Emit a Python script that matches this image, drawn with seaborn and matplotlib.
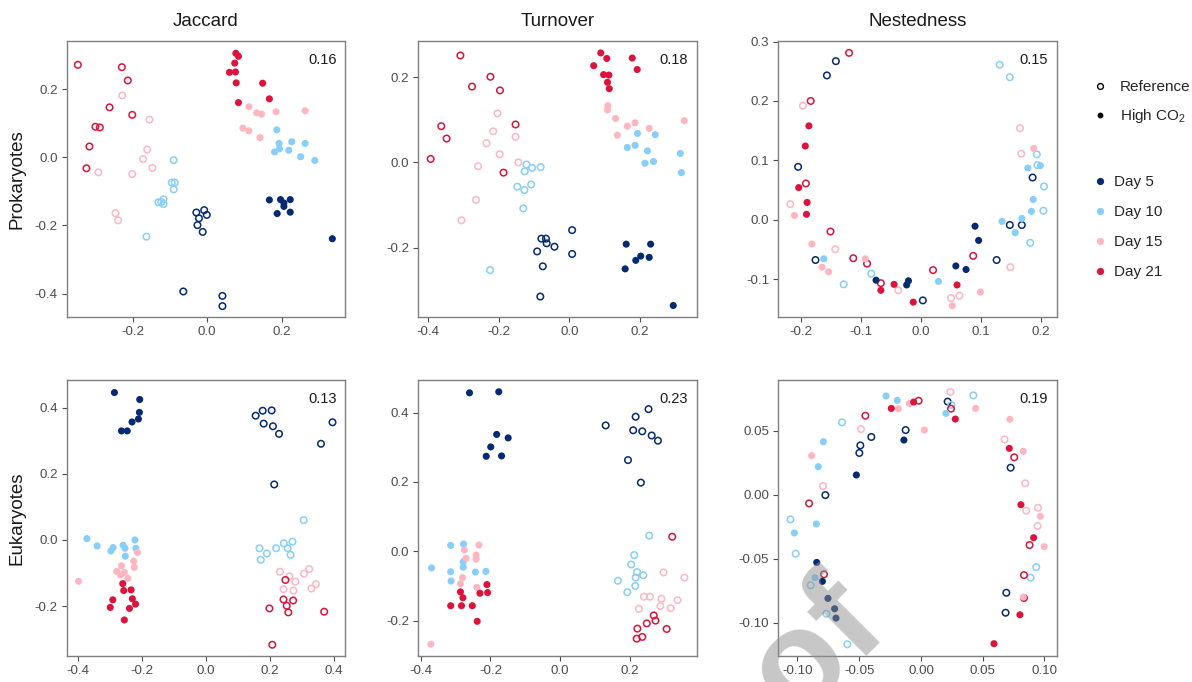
import matplotlib
matplotlib.use("Agg")
import matplotlib.pyplot as plt
from matplotlib.lines import Line2D
from matplotlib.ticker import FormatStrFormatter
import seaborn as sns
import pandas as pd

# ---------------------------------------------------------------------------
# Ordination scores (axis 1, axis 2) per sampling day
# ---------------------------------------------------------------------------
prok_jaccard_ref = {
    5: [(-0.029, -0.162), (-0.008, -0.155), (-0.001, -0.169), (-0.022, -0.179), (-0.026, -0.199),
        (-0.012, -0.219), (-0.064, -0.394), (0.041, -0.407), (0.041, -0.437)],
    10: [(-0.090, -0.008), (-0.095, -0.074), (-0.087, -0.074), (-0.090, -0.094), (-0.131, -0.132),
         (-0.123, -0.131), (-0.117, -0.123), (-0.117, -0.137), (-0.163, -0.233)],
    15: [(-0.228, 0.182), (-0.155, 0.111), (-0.161, 0.023), (-0.172, -0.005), (-0.147, -0.031),
         (-0.292, -0.044), (-0.201, -0.049), (-0.246, -0.164), (-0.239, -0.185)],
    21: [(-0.347, 0.272), (-0.229, 0.265), (-0.213, 0.226), (-0.262, 0.147), (-0.201, 0.125),
         (-0.300, 0.090), (-0.288, 0.088), (-0.316, 0.032), (-0.324, -0.032)],
}
prok_jaccard_co2 = {
    5: [(0.167, -0.125), (0.197, -0.124), (0.223, -0.124), (0.206, -0.134), (0.206, -0.144),
        (0.188, -0.165), (0.223, -0.161), (0.336, -0.239)],
    10: [(0.187, 0.081), (0.193, 0.041), (0.194, 0.025), (0.181, 0.016), (0.227, 0.046),
         (0.219, 0.021), (0.263, 0.041), (0.251, 0.002), (0.289, -0.009)],
    15: [(0.112, 0.149), (0.133, 0.131), (0.146, 0.127), (0.185, 0.134), (0.263, 0.137),
         (0.096, 0.086), (0.112, 0.078), (0.142, 0.058)],
    21: [(0.077, 0.306), (0.084, 0.297), (0.074, 0.277), (0.060, 0.250), (0.076, 0.251),
         (0.078, 0.219), (0.149, 0.218), (0.084, 0.161), (0.167, 0.172)],
}

prok_turnover_ref = {
    5: [(-0.079, -0.179), (-0.066, -0.179), (-0.064, -0.190), (-0.042, -0.198), (0.008, -0.159),
        (0.008, -0.215), (-0.091, -0.209), (-0.075, -0.244), (-0.082, -0.315)],
    10: [(-0.121, -0.005), (-0.105, -0.013), (-0.081, -0.011), (-0.126, -0.021), (-0.147, -0.057),
         (-0.127, -0.065), (-0.108, -0.052), (-0.130, -0.108), (-0.224, -0.253)],
    15: [(-0.203, 0.115), (-0.215, 0.073), (-0.234, 0.045), (-0.152, 0.060), (-0.197, 0.019),
         (-0.258, -0.009), (-0.144, 0.000), (-0.264, -0.088), (-0.305, -0.136)],
    21: [(-0.308, 0.251), (-0.223, 0.201), (-0.275, 0.178), (-0.196, 0.169), (-0.152, 0.089),
         (-0.362, 0.085), (-0.347, 0.056), (-0.392, 0.008), (-0.186, -0.024)],
}
prok_turnover_co2 = {
    5: [(0.161, -0.192), (0.230, -0.192), (0.202, -0.220), (0.226, -0.223), (0.188, -0.230),
        (0.158, -0.250), (0.294, -0.336)],
    10: [(0.193, 0.068), (0.243, 0.065), (0.164, 0.035), (0.186, 0.040), (0.221, 0.027),
         (0.214, -0.002), (0.238, 0.002), (0.314, 0.021), (0.317, -0.024)],
    15: [(0.109, 0.133), (0.108, 0.123), (0.131, 0.103), (0.164, 0.085), (0.186, 0.093),
         (0.226, 0.080), (0.136, 0.064), (0.325, 0.098)],
    21: [(0.089, 0.257), (0.106, 0.244), (0.178, 0.245), (0.069, 0.227), (0.097, 0.206),
         (0.112, 0.205), (0.108, 0.188), (0.113, 0.173), (0.192, 0.218)],
}

prok_nested_ref = {
    5: [(-0.157, 0.243), (-0.142, 0.267), (-0.205, 0.089), (-0.176, -0.068), (0.003, -0.136),
        (0.126, -0.068), (0.148, -0.009), (0.168, -0.009), (0.186, 0.071)],
    10: [(0.131, 0.261), (0.148, 0.240), (0.193, 0.110), (0.194, 0.092), (0.205, 0.056),
         (0.204, 0.015), (0.182, -0.039), (-0.129, -0.109), (-0.083, -0.091)],
    15: [(-0.197, 0.192), (-0.218, 0.026), (-0.143, -0.050), (-0.038, -0.119), (0.050, -0.132),
         (0.064, -0.128), (0.149, -0.080), (0.165, 0.154), (0.167, 0.111)],
    21: [(-0.120, 0.281), (-0.184, 0.200), (-0.192, 0.061), (-0.151, -0.020), (-0.113, -0.065),
         (-0.090, -0.074), (-0.067, -0.107), (0.020, -0.085), (0.087, -0.061)],
}
prok_nested_co2 = {
    5: [(-0.075, -0.102), (-0.024, -0.110), (-0.021, -0.103), (0.058, -0.078), (0.075, -0.084),
        (0.090, -0.011), (0.096, -0.035)],
    10: [(-0.162, -0.066), (0.029, -0.104), (0.135, -0.003), (0.157, -0.022), (0.168, 0.002),
         (0.184, 0.014), (0.187, 0.034), (0.178, 0.087), (0.199, 0.091)],
    15: [(-0.211, 0.007), (-0.182, -0.041), (-0.165, -0.080), (-0.154, -0.088), (-0.093, -0.066),
         (0.052, -0.145), (0.099, -0.122), (0.188, 0.120)],
    21: [(-0.187, 0.158), (-0.193, 0.124), (-0.204, 0.054), (-0.190, 0.029), (-0.191, 0.009),
         (-0.067, -0.119), (-0.045, -0.109), (-0.013, -0.139), (0.060, -0.110)],
}

euk_jaccard_ref = {
    5: [(0.155, 0.376), (0.177, 0.391), (0.205, 0.392), (0.180, 0.352), (0.209, 0.344),
        (0.228, 0.321), (0.395, 0.356), (0.359, 0.291), (0.213, 0.168)],
    10: [(0.305, 0.060), (0.167, -0.025), (0.190, -0.041), (0.171, -0.060), (0.219, -0.025),
         (0.243, -0.010), (0.255, -0.025), (0.270, -0.005), (0.264, -0.045)],
    15: [(0.231, -0.096), (0.260, -0.110), (0.279, -0.126), (0.306, -0.102), (0.322, -0.088),
         (0.242, -0.149), (0.273, -0.153), (0.329, -0.147), (0.343, -0.134)],
    21: [(0.248, -0.121), (0.242, -0.180), (0.272, -0.183), (0.252, -0.199), (0.257, -0.219),
         (0.198, -0.207), (0.369, -0.217), (0.207, -0.317)],
}
euk_jaccard_co2 = {
    5: [(-0.286, 0.446), (-0.207, 0.425), (-0.208, 0.386), (-0.211, 0.366), (-0.231, 0.357),
        (-0.264, 0.330), (-0.246, 0.330)],
    10: [(-0.372, 0.004), (-0.340, -0.018), (-0.297, -0.033), (-0.290, -0.023), (-0.259, -0.016),
         (-0.253, -0.025), (-0.252, -0.049), (-0.222, 0.000), (-0.219, -0.025)],
    15: [(-0.398, -0.125), (-0.214, -0.038), (-0.226, -0.064), (-0.224, -0.083), (-0.264, -0.078),
         (-0.279, -0.095), (-0.267, -0.106), (-0.255, -0.098), (-0.244, -0.116)],
    21: [(-0.260, -0.132), (-0.257, -0.153), (-0.234, -0.151), (-0.291, -0.181), (-0.230, -0.178),
         (-0.299, -0.204), (-0.239, -0.207), (-0.220, -0.194), (-0.255, -0.242)],
}

euk_turnover_ref = {
    5: [(0.131, 0.363), (0.254, 0.410), (0.217, 0.388), (0.210, 0.349), (0.236, 0.346),
        (0.263, 0.334), (0.281, 0.319), (0.195, 0.263), (0.232, 0.198)],
    10: [(0.256, 0.045), (0.213, -0.011), (0.204, -0.038), (0.221, -0.060), (0.239, -0.069),
         (0.217, -0.076), (0.166, -0.085), (0.216, -0.100), (0.193, -0.118)],
    15: [(0.297, -0.061), (0.357, -0.076), (0.241, -0.131), (0.258, -0.131), (0.226, -0.166),
         (0.291, -0.137), (0.288, -0.158), (0.318, -0.164), (0.337, -0.141)],
    21: [(0.322, 0.042), (0.269, -0.185), (0.274, -0.200), (0.249, -0.208), (0.222, -0.223),
         (0.220, -0.252), (0.236, -0.247), (0.306, -0.224)],
}
euk_turnover_co2 = {
    5: [(-0.260, 0.457), (-0.176, 0.460), (-0.182, 0.337), (-0.149, 0.327), (-0.199, 0.301),
        (-0.212, 0.274), (-0.168, 0.275)],
    10: [(-0.314, 0.017), (-0.277, 0.021), (-0.369, -0.048), (-0.314, -0.059), (-0.313, -0.086),
         (-0.278, -0.030), (-0.278, -0.046), (-0.243, -0.060), (-0.213, -0.058)],
    15: [(-0.233, 0.018), (-0.275, 0.004), (-0.241, -0.011), (-0.241, -0.023), (-0.270, -0.020),
         (-0.280, -0.076), (-0.286, -0.094), (-0.239, -0.104), (-0.371, -0.268)],
    21: [(-0.286, -0.117), (-0.279, -0.134), (-0.230, -0.121), (-0.210, -0.096), (-0.208, -0.119),
         (-0.314, -0.157), (-0.283, -0.157), (-0.252, -0.157), (-0.238, -0.202)],
}

euk_nested_ref = {
    5: [(-0.0491, 0.0385), (-0.0499, 0.0326), (-0.0402, 0.0451), (-0.0124, 0.0505), (0.0216, 0.0727),
        (0.0726, 0.0211), (0.0691, -0.0766), (0.0685, -0.0922), (-0.0774, -0.0003)],
    10: [(-0.1057, -0.0193), (-0.1014, -0.0461), (-0.0893, -0.0708), (-0.0766, -0.0930), (-0.0596, -0.1169),
         (-0.0639, 0.0565), (0.0424, 0.0776), (0.0245, 0.0701), (0.0933, -0.0565), (0.0888, -0.0648)],
    15: [(-0.0486, 0.0513), (-0.0793, 0.0068), (0.0237, 0.0802), (0.0677, 0.0432), (0.0844, 0.0089),
         (0.0947, -0.0102), (0.0852, -0.0125), (0.0944, -0.0245)],
    21: [(-0.0450, 0.0617), (-0.0019, 0.0734), (0.0243, 0.0672), (-0.0906, -0.0068), (-0.0785, -0.0622),
         (0.0755, 0.0292), (0.0879, -0.0393), (0.0834, -0.0628), (0.0834, -0.0807)],
}
euk_nested_co2 = {
    5: [(-0.0523, 0.0154), (-0.0138, 0.0427), (-0.0844, -0.0529), (-0.0798, -0.0677), (-0.0753, -0.0810),
        (-0.0699, -0.0891), (-0.0688, -0.0964)],
    10: [(-0.0283, 0.0771), (-0.0192, 0.0737), (0.0202, 0.0635), (-0.0790, 0.0414), (-0.0831, 0.0219),
         (-0.0847, -0.0229), (-0.1025, -0.0299), (-0.0858, -0.0648)],
    15: [(-0.0885, 0.0305), (-0.0183, 0.0672), (-0.0094, 0.0711), (0.0027, 0.0505), (0.0442, 0.0674),
         (0.0720, 0.0589), (0.0828, 0.0339), (0.0966, -0.0169), (0.0998, -0.0406), (0.0828, -0.0799)],
    21: [(-0.0240, 0.0674), (-0.0059, 0.0724), (0.0278, 0.0591), (0.0715, 0.0362), (0.0809, -0.0078),
         (0.0912, -0.0336), (0.0801, -0.0938), (0.0591, -0.1164)],
}

# Labels, ticks and explained-variance annotations
groups = ["Prokaryotes", "Eukaryotes"]
indices = ["Jaccard", "Turnover", "Nestedness"]
days = [5, 10, 15, 21]
day_labels = ["Day 5", "Day 10", "Day 15", "Day 21"]
treatments = ["Reference", "High CO$_2$"]
panel_values = {
    ("Prokaryotes", "Jaccard"): 0.16, ("Prokaryotes", "Turnover"): 0.18, ("Prokaryotes", "Nestedness"): 0.15,
    ("Eukaryotes", "Jaccard"): 0.13, ("Eukaryotes", "Turnover"): 0.23, ("Eukaryotes", "Nestedness"): 0.19,
}
x_ticks = {
    ("Prokaryotes", "Jaccard"): [-0.2, 0.0, 0.2],
    ("Prokaryotes", "Turnover"): [-0.4, -0.2, 0.0, 0.2],
    ("Prokaryotes", "Nestedness"): [-0.2, -0.1, 0.0, 0.1, 0.2],
    ("Eukaryotes", "Jaccard"): [-0.4, -0.2, 0.0, 0.2, 0.4],
    ("Eukaryotes", "Turnover"): [-0.4, -0.2, 0.0, 0.2],
    ("Eukaryotes", "Nestedness"): [-0.10, -0.05, 0.0, 0.05, 0.10],
}
y_ticks = {
    ("Prokaryotes", "Jaccard"): [-0.4, -0.2, 0.0, 0.2],
    ("Prokaryotes", "Turnover"): [-0.2, 0.0, 0.2],
    ("Prokaryotes", "Nestedness"): [-0.1, 0.0, 0.1, 0.2, 0.3],
    ("Eukaryotes", "Jaccard"): [-0.2, 0.0, 0.2, 0.4],
    ("Eukaryotes", "Turnover"): [-0.2, 0.0, 0.2, 0.4],
    ("Eukaryotes", "Nestedness"): [-0.10, -0.05, 0.0, 0.05],
}

# ---------------------------------------------------------------------------
# Long-format table
# ---------------------------------------------------------------------------
sources = {
    ("Prokaryotes", "Jaccard"): (prok_jaccard_ref, prok_jaccard_co2),
    ("Prokaryotes", "Turnover"): (prok_turnover_ref, prok_turnover_co2),
    ("Prokaryotes", "Nestedness"): (prok_nested_ref, prok_nested_co2),
    ("Eukaryotes", "Jaccard"): (euk_jaccard_ref, euk_jaccard_co2),
    ("Eukaryotes", "Turnover"): (euk_turnover_ref, euk_turnover_co2),
    ("Eukaryotes", "Nestedness"): (euk_nested_ref, euk_nested_co2),
}
rows = []
for (grp, idx), (ref, co2) in sources.items():
    for treat, table in zip(treatments, (ref, co2)):
        for day, pts in table.items():
            for x, y in pts:
                rows.append(dict(group=grp, index=idx, treatment=treat,
                                 day=f"Day {day}", x=x, y=y))
df = pd.DataFrame(rows)

# ---------------------------------------------------------------------------
# Styling
# ---------------------------------------------------------------------------
sns.set_style("ticks")
plt.rcParams["font.family"] = ["Liberation Sans", "DejaVu Sans"]
plt.rcParams["mathtext.default"] = "regular"
plt.rcParams["axes.unicode_minus"] = False

palette = {"Day 5": "#062a72", "Day 10": "#87cefa", "Day 15": "#ffb6c1", "Day 21": "#dc143c"}
limits = {
    ("Prokaryotes", "Jaccard"): ((-0.377, 0.370), (-0.469, 0.342)),
    ("Prokaryotes", "Turnover"): ((-0.427, 0.360), (-0.363, 0.285)),
    ("Prokaryotes", "Nestedness"): ((-0.238, 0.226), (-0.164, 0.301)),
    ("Eukaryotes", "Jaccard"): ((-0.435, 0.434), (-0.351, 0.484)),
    ("Eukaryotes", "Turnover"): ((-0.407, 0.392), (-0.302, 0.494)),
    ("Eukaryotes", "Nestedness"): ((-0.1155, 0.1098), (-0.126, 0.0896)),
}

W, H = 1192, 682
fig = plt.figure(figsize=(W / 100, H / 100), dpi=100)
col_left = [66.7, 418.3, 778.3]
row_top = [41.0, 380.0]
pw, ph = 278.3, 276.0

for r, grp in enumerate(groups):
    for c, idx in enumerate(indices):
        key = (grp, idx)
        ax = fig.add_axes([col_left[c] / W, 1 - (row_top[r] + ph) / H, pw / W, ph / H])
        sub = df[(df["group"] == grp) & (df["index"] == idx)]

        # reference: open circles
        sns.scatterplot(data=sub[sub.treatment == treatments[0]], x="x", y="y", hue="day",
                        hue_order=day_labels, palette=palette, s=22, linewidth=1.1,
                        legend=False, ax=ax, zorder=3)
        coll = ax.collections[-1]
        fc = coll.get_facecolors()
        coll.set_edgecolors(fc)
        coll.set_facecolors("none")

        # elevated CO2: filled circles
        sns.scatterplot(data=sub[sub.treatment == treatments[1]], x="x", y="y", hue="day",
                        hue_order=day_labels, palette=palette, s=26, linewidth=0,
                        legend=False, ax=ax, zorder=3)

        (x0, x1), (y0, y1) = limits[key]
        ax.set_xlim(x0, x1)
        ax.set_ylim(y0, y1)
        ax.set_xticks(x_ticks[key])
        ax.set_yticks(y_ticks[key])
        fmt = "%.2f" if idx == "Nestedness" and grp == "Eukaryotes" else "%.1f"
        ax.xaxis.set_major_formatter(FormatStrFormatter(fmt))
        ax.yaxis.set_major_formatter(FormatStrFormatter(fmt))
        ax.set_xlabel("")
        ax.set_ylabel("")
        ax.tick_params(labelsize=9.6, colors="#4d4d4d", length=3.5, width=0.8, pad=3)
        for sp in ax.spines.values():
            sp.set_visible(True)
            sp.set_color("#7f7f7f")
            sp.set_linewidth(1.0)
        ax.text(0.97, 0.955, f"{panel_values[key]:.2f}", transform=ax.transAxes,
                ha="right", va="top", fontsize=10.5, color="#1a1a1a")
        if r == 0:
            ax.set_title(idx, fontsize=13.5, pad=11, color="#1a1a1a")

# row labels
for r, grp in enumerate(groups):
    yc = 1 - (row_top[r] + ph / 2) / H
    fig.text(17 / W, yc, grp, rotation=90, ha="center", va="center",
             fontsize=13.5, color="#1a1a1a")

# legend: treatment (marker fill)
shape_handles = [
    Line2D([], [], marker="o", linestyle="", markerfacecolor="none",
           markeredgecolor="black", markersize=4.2, markeredgewidth=1.0),
    Line2D([], [], marker="o", linestyle="", markerfacecolor="black",
           markeredgecolor="black", markersize=4.2, markeredgewidth=0),
]
leg1 = fig.legend(shape_handles, treatments, loc="upper left",
                  bbox_to_anchor=(1092 / W, 1 - 80 / H), frameon=False,
                  fontsize=11, handlelength=1.0, handletextpad=0.82,
                  labelspacing=0.88, borderpad=0, borderaxespad=0)

# legend: sampling day (colour)
day_handles = [Line2D([], [], marker="o", linestyle="", markerfacecolor=palette[d],
                      markeredgecolor=palette[d], markersize=5.2, markeredgewidth=0)
               for d in day_labels]
leg2 = fig.legend(day_handles, day_labels, loc="upper left",
                  bbox_to_anchor=(1092 / W, 1 - 175 / H), frameon=False,
                  fontsize=11, handlelength=1.0, handletextpad=0.46,
                  labelspacing=1.05, borderpad=0, borderaxespad=0)

# draft watermark
fig.text(888 / W, 1 - 625 / H, "Proof", rotation=45, rotation_mode="anchor",
         ha="right", va="baseline", fontsize=100, fontweight="bold",
         color="#909090", alpha=0.5, zorder=10)

fig.savefig("out.png", dpi=100)
